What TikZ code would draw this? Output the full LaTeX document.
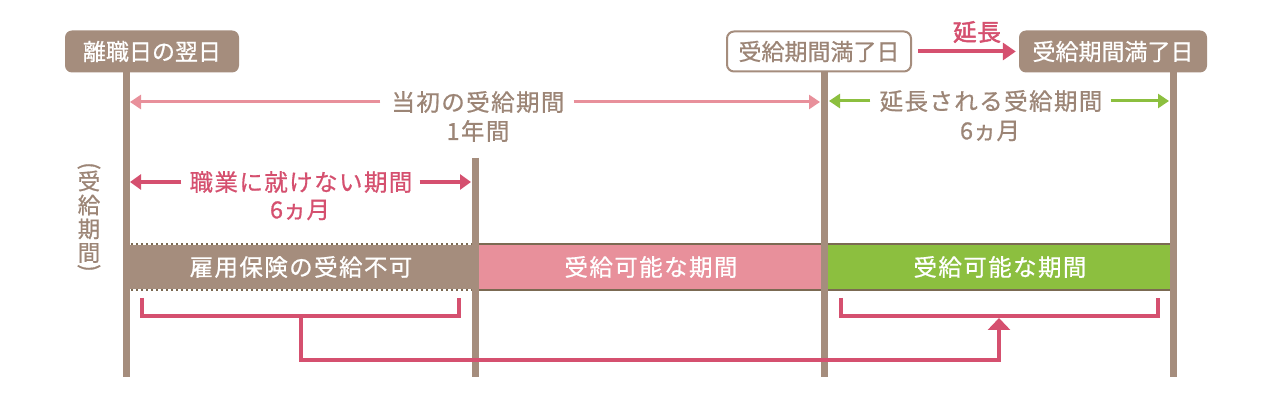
\documentclass[tikz,border=0pt]{standalone}
\usepackage{fontspec}
\setmainfont{Noto Sans CJK JP}[FakeBold=0.7]
\newfontfamily\spacedjp{Noto Sans CJK JP}[FakeBold=0.7,LetterSpace=6]
\newfontfamily\boldjp{Noto Sans CJK JP}[FakeBold=2.2,LetterSpace=4]
\usetikzlibrary{arrows.meta}
\definecolor{brn}{HTML}{A58D7D}
\definecolor{txtbrn}{HTML}{9C8576}
\definecolor{dpink}{HTML}{D5506F}
\definecolor{lpink}{HTML}{E8909B}
\definecolor{grn}{HTML}{8CBF3F}
\definecolor{edgebrn}{HTML}{7B6A52}
\tikzset{
  vline/.style={draw=brn, line width=7pt},
  fbox/.style={rounded corners=7pt, fill=brn, text=white, minimum height=42pt, inner sep=0pt, font=\fontsize{23}{23}\selectfont},
  obox/.style={rounded corners=7pt, draw=brn, line width=2pt, fill=white, text=txtbrn, minimum height=40pt, inner sep=0pt, font=\fontsize{23}{23}\selectfont},
  lab/.style={inner sep=0pt, font=\fontsize{23.5}{23.5}\spacedjp},
  sublab/.style={inner sep=0pt, font=\fontsize{23.5}{23.5}\selectfont},
  bartext/.style={inner sep=0pt, text=white, font=\fontsize{23.5}{23.5}\spacedjp},
  lparrow/.style={draw=lpink, line width=3pt, -{Triangle[length=11pt,width=14pt]}},
  dparrow/.style={draw=dpink, line width=4pt, -{Triangle[length=11pt,width=15pt]}},
  garrow/.style={draw=grn, line width=3pt, -{Triangle[length=11pt,width=14pt]}},
  bracket/.style={draw=dpink, line width=3.5pt},
  vt/.style={inner sep=0pt, text=txtbrn, font=\fontsize{22.5}{22.5}\selectfont},
}
\begin{document}
\begin{tikzpicture}[x=1pt,y=-1pt]
\useasboundingbox[fill=white] (0,0) rectangle (1280,411);

% bars
\fill[brn] (126,244) rectangle (474,290);
\fill[lpink] (474,244) rectangle (824,290);
\fill[grn] (824,244) rectangle (1172,290);
\draw[white, line width=2pt] (126,244) -- (474,244) (126,290) -- (474,290);
\draw[edgebrn, line width=2pt, dash pattern=on 2pt off 3pt] (126,244) -- (474,244) (126,290) -- (474,290);
\draw[edgebrn, line width=2pt] (474,244) -- (1172,244) (474,290) -- (1172,290);
\node[bartext] (bt1) at (301,267) {雇用保険の受給不可};
\node[bartext] (bt2) at (651,267) {受給可能な期間};
\node[bartext] (bt3) at (1000,267) {受給可能な期間};

% top boxes
\node[fbox, minimum width=174pt] (b1) at (152,51.5) {離職日の翌日};
\node[obox, minimum width=184pt] (b2) at (819,51.5) {受給期間満了日};
\node[fbox, minimum width=188pt] (b3) at (1113,51.5) {受給期間満了日};

% vertical lines
\coordinate (l1t) at (126,72); \coordinate (l1b) at (126,377);
\coordinate (l2t) at (475,158); \coordinate (l2b) at (475,377);
\coordinate (l3t) at (824,72); \coordinate (l3b) at (824,377);
\coordinate (l4t) at (1173,72); \coordinate (l4b) at (1173,377);
\draw[vline] (l1t) -- (l1b);
\draw[vline] (l2t) -- (l2b);
\draw[vline] (l3t) -- (l3b);
\draw[vline] (l4t) -- (l4b);

% extension arrow
\node[inner sep=0pt, text=dpink, font=\fontsize{23.5}{23.5}\boldjp] (ext) at (977,32) {延長};
\draw[dpink, line width=4pt, -{Triangle[length=13pt,width=17pt]}] ([xshift=6pt]b2.east) -- ([xshift=-3pt]b3.west);

% initial period
\node[lab, text=txtbrn] (ip) at (478,102) {当初の受給期間};
\node[lab, text=txtbrn] (ip2) at (478,131) {1年間};
\coordinate (ipl) at (130,102); \coordinate (ipr) at (820,102);
\draw[lparrow] ([xshift=-11pt]ip.west) -- (ipl);
\draw[lparrow] ([xshift=9pt]ip.east) -- (ipr);

% extended period
\node[lab, text=txtbrn] (ep) at (991,101) {延長される受給期間};
\node[sublab, text=txtbrn] (ep2) at (990,131) {6ヵ月};
\coordinate (epl) at (829,101); \coordinate (epr) at (1169,101);
\draw[garrow] ([xshift=-9pt]ep.west) -- (epl);
\draw[garrow] ([xshift=8pt]ep.east) -- (epr);

% cannot work period
\node[lab, text=dpink] (np) at (301,182) {職業に就けない期間};
\node[sublab, text=dpink] (np2) at (300,210) {6ヵ月};
\coordinate (npl) at (130,182); \coordinate (npr) at (471,182);
\draw[dparrow] ([xshift=-8pt]np.west) -- (npl);
\draw[dparrow] ([xshift=7pt]np.east) -- (npr);

% vertical text
\node[vt, rotate=-90] (vp1) at (89,166) {(};
\node[vt] (v1) at (89,181) {受};
\node[vt] (v2) at (89,205) {給};
\node[vt] (v3) at (89,229) {期};
\node[vt] (v4) at (89,253) {間};
\node[vt, rotate=-90] (vp2) at (89,268) {)};

% brackets
\coordinate (a1) at (142,298); \coordinate (a2) at (142,316);
\coordinate (a3) at (459,316); \coordinate (a4) at (459,298);
\coordinate (c1) at (841,298); \coordinate (c2) at (841,316);
\coordinate (c3) at (1158,316); \coordinate (c4) at (1158,298);
\draw[bracket] (a1) -- (a2) -- (a3) -- (a4);
\draw[bracket] (c1) -- (c2) -- (c3) -- (c4);
\coordinate (m1) at (301,316); \coordinate (m2) at (999,318);
\draw[bracket, -{Triangle[length=12pt,width=22pt]}] (m1) -- (301,360) -| (m2);
\end{tikzpicture}
\end{document}
